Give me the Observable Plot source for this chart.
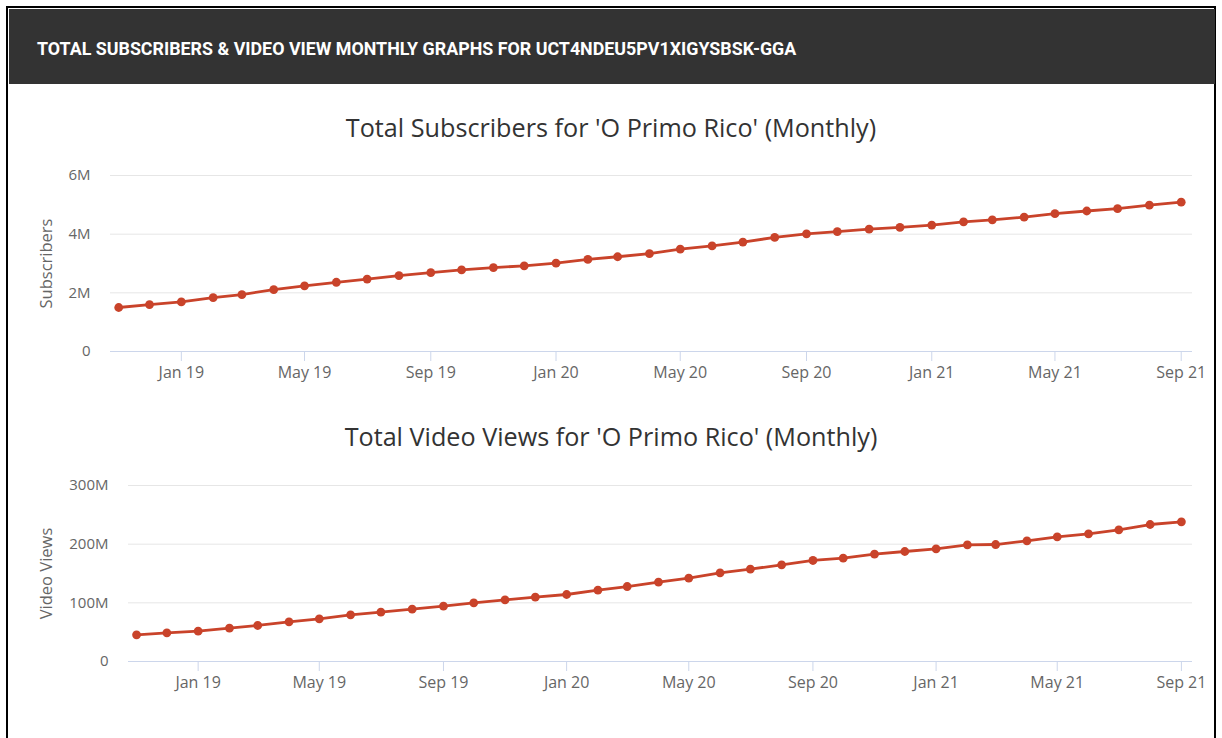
<!DOCTYPE html>
<html>
<head>
<meta charset="utf-8">
<script src="https://cdn.jsdelivr.net/npm/d3@7"></script>
<script src="https://cdn.jsdelivr.net/npm/@observablehq/plot@0.6"></script>
<style>
  html, body { margin: 0; padding: 0; background: #fff; width: 1222px; height: 738px; overflow: hidden; }
  #frame { position: absolute; left: 6px; top: 6px; width: 1210px; height: 740px; border: 2px solid #000; border-bottom: none; box-sizing: border-box; }
  #header { position: absolute; left: 9px; top: 9px; width: 1206px; height: 75px; background: #333333; }
  #header span { position: absolute; left: 28px; top: 30.5px; line-height: 1; color: #fff; font-family: Roboto, sans-serif; font-weight: 700; font-size: 17.85px; white-space: nowrap; }
  .title { position: absolute; left: 0; width: 1222px; text-align: center; font-family: "Open Sans", sans-serif; font-size: 25.2px; line-height: 1; color: #333; white-space: nowrap; }
  .chart { position: absolute; left: 0; }
  .chart svg { overflow: visible; }
</style>
</head>
<body>
<div id="frame"></div>
<div id="header"><span>TOTAL SUBSCRIBERS &amp; VIDEO VIEW MONTHLY GRAPHS FOR UCT4NDEU5PV1XIGYSBSK-GGA</span></div>
<div class="title" style="top:115px">Total Subscribers for 'O Primo Rico' (Monthly)</div>
<div class="chart" id="c1" style="top:150px"></div>
<div class="title" style="top:424px">Total Video Views for 'O Primo Rico' (Monthly)</div>
<div class="chart" id="c2" style="top:460px"></div>
<script>
// Months: Nov 2018 .. Sep 2021
const months = [
  "2018-11","2018-12",
  "2019-01","2019-02","2019-03","2019-04","2019-05","2019-06","2019-07","2019-08","2019-09","2019-10","2019-11","2019-12",
  "2020-01","2020-02","2020-03","2020-04","2020-05","2020-06","2020-07","2020-08","2020-09","2020-10","2020-11","2020-12",
  "2021-01","2021-02","2021-03","2021-04","2021-05","2021-06","2021-07","2021-08","2021-09"
];
// Total subscribers (millions)
const subscribers = [
  1.50,1.60,
  1.69,1.84,1.94,2.11,2.24,2.36,2.47,2.59,2.69,2.78,2.86,2.92,
  3.01,3.14,3.23,3.34,3.49,3.60,3.73,3.89,4.01,4.09,4.17,4.23,
  4.31,4.42,4.49,4.58,4.70,4.79,4.87,4.99,5.09
];
// Total video views (millions)
const videoViews = [
  45.5,48.9,
  51.7,56.8,61.4,67.6,72.7,79.5,84.1,89.2,94.3,100.0,105.1,109.7,
  114.2,121.6,127.8,135.2,142.0,151.1,157.4,164.8,172.2,176.1,182.9,187.5,
  192.1,198.9,199.4,205.7,212.5,217.6,224.4,233.5,238.1
];
const xTickLabels = ["2019-01","2019-05","2019-09","2020-01","2020-05","2020-09","2021-01","2021-05","2021-09"];
const subTicks = [0, 2e6, 4e6, 6e6];
const viewTicks = [0, 100e6, 200e6, 300e6];

const parse = d3.utcParse("%Y-%m");
const subData = months.map((m, i) => ({date: parse(m), value: subscribers[i] * 1e6}));
const viewData = months.map((m, i) => ({date: parse(m), value: videoViews[i] * 1e6}));
const xTicks = xTickLabels.map(parse);
const xDomain = [new Date(Date.UTC(2018, 9, 24)), new Date(Date.UTC(2021, 8, 12))];

const RED = "#c9432a";
const fmtM = d => d === 0 ? "0" : (d / 1e6) + "M";

function chart(data, yTicks, yLabel, marginLeft, labelOffset) {
  return Plot.plot({
    width: 1222,
    height: 240,
    marginTop: 25,
    marginBottom: 39,
    marginLeft,
    marginRight: 30,
    style: {fontFamily: "'Open Sans', sans-serif", fontSize: "15px", color: "#666", background: "transparent"},
    x: {type: "utc", domain: xDomain},
    y: {domain: [0, yTicks[yTicks.length - 1]]},
    marks: [
      Plot.ruleY(yTicks.slice(1), {stroke: "#e6e6e6", strokeWidth: 1}),
      Plot.ruleY([0], {stroke: "#ccd6eb", strokeWidth: 1}),
      Plot.axisX({ticks: xTicks, tickFormat: d3.utcFormat("%b %y"), tickSize: 10, tickPadding: 5, stroke: "#ccd6eb", fill: "#666", fontSize: 16, label: null}),
      Plot.axisY({ticks: yTicks, tickFormat: fmtM, tickSize: 0, tickPadding: 20, fill: "#666", fontSize: 15, label: null}),
      Plot.axisY({ticks: [], tickSize: 0, fill: "#666", fontSize: 16.5, label: yLabel, labelAnchor: "center", labelArrow: "none", labelOffset}),
      Plot.line(data, {x: "date", y: "value", stroke: RED, strokeWidth: 2.8}),
      Plot.dot(data, {x: "date", y: "value", fill: RED, r: 4.4})
    ]
  });
}

document.getElementById("c1").appendChild(chart(subData, subTicks, "Subscribers", 110, 70));
document.getElementById("c2").appendChild(chart(viewData, viewTicks, "Video Views", 128, 88));
</script>
</body>
</html>
